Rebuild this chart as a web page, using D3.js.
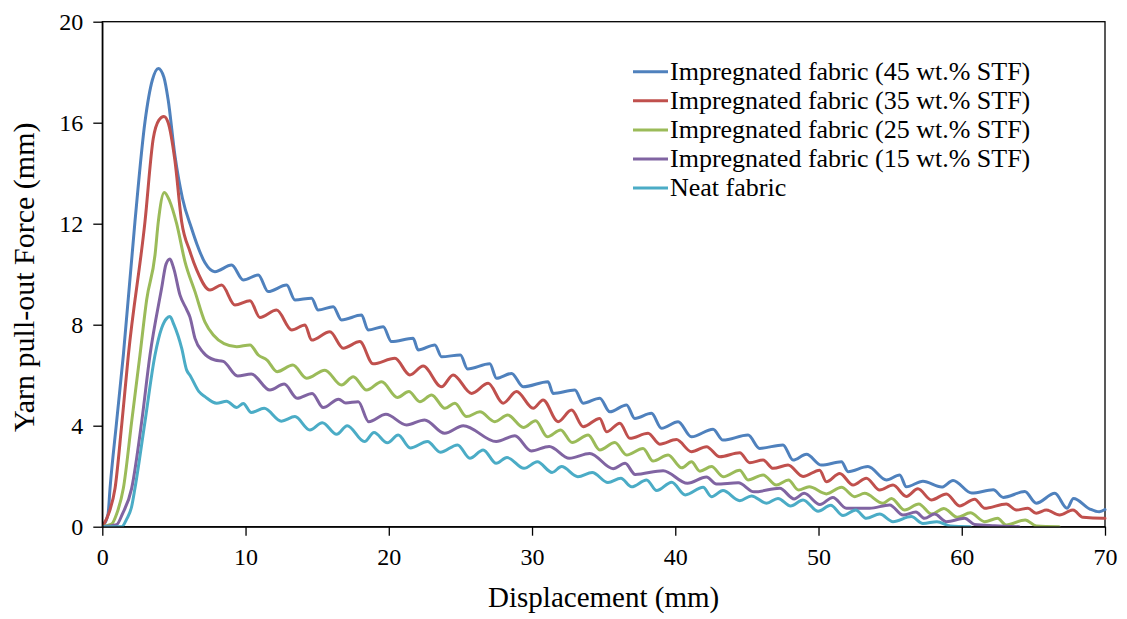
<!DOCTYPE html>
<html>
<head>
<meta charset="utf-8">
<script src="https://cdn.jsdelivr.net/npm/d3@7/dist/d3.min.js"></script>
<style>
  html, body { margin: 0; padding: 0; background: #fff; }
  svg { display: block; }
  text { font-family: "Liberation Serif", "Times New Roman", serif; fill: #000; }
</style>
</head>
<body>
<svg id="chart" width="1127" height="619"></svg>
<script>
const xTicks = [0, 10, 20, 30, 40, 50, 60, 70];
const yTicks = [0, 4, 8, 12, 16, 20];
const seriesNames = [
  "Impregnated fabric (45 wt.% STF)",
  "Impregnated fabric (35 wt.% STF)",
  "Impregnated fabric (25 wt.% STF)",
  "Impregnated fabric (15 wt.% STF)",
  "Neat fabric"
];

const stf45 = [[0,0],[0.4,0.5],[0.54,1.52],[1.0,4.16],[1.47,6.8],[2.28,12.08],[2.98,16.04],[3.5,17.7],[3.91,18.15],[4.3,17.8],[4.6,16.9],[5.07,14.7],[5.6,13.0],[6.24,11.8],[6.6,11.2],[7.17,10.45],[7.86,10.1],[9.03,10.36],[9.84,9.77],[10.89,9.97],[11.58,9.31],[12.87,9.57],[13.45,8.98],[14.61,9.05],[15.07,8.58],[16.12,8.71],[16.7,8.19],[18.1,8.38],[18.56,7.79],[19.61,7.92],[20.19,7.33],[21.7,7.46],[22.05,7.0],[23.22,7.2],[23.68,6.73],[25.0,6.8],[25.5,6.25],[27.05,6.45],[27.52,5.88],[28.57,6.07],[29.38,5.54],[31.12,5.74],[31.47,5.28],[32.99,5.41],[33.57,4.89],[34.73,5.09],[35.43,4.55],[36.6,4.82],[37.17,4.29],[38.34,4.49],[39.04,3.9],[40.2,4.16],[41.13,3.56],[42.64,3.86],[43.33,3.43],[45.08,3.63],[45.89,3.1],[47.52,3.24],[48.22,2.64],[49.16,2.87],[50.2,2.44],[51.6,2.57],[52.06,2.18],[53.45,2.38],[54.74,1.85],[55.67,2.05],[56.13,1.58],[57.29,1.8],[58.6,1.57],[59.39,1.83],[60.7,1.33],[62.2,1.46],[62.9,1.16],[64.4,1.39],[65.2,0.93],[66.5,1.32],[67.35,0.73],[67.8,1.12],[68.95,0.7],[69.6,0.59],[70,0.68]];

const stf35 = [[0,0],[0.5,0.6],[0.89,1.52],[1.35,4.0],[1.82,6.8],[2.98,12.08],[3.56,15.38],[3.95,16.1],[4.3,16.25],[4.6,16.0],[5.07,14.5],[5.54,12.08],[6.12,10.9],[6.59,10.17],[7.52,9.37],[8.33,9.57],[9.26,8.78],[10.31,8.95],[11.0,8.29],[12.17,8.58],[13.22,7.79],[14.15,7.99],[14.61,7.39],[15.89,7.72],[16.82,7.07],[17.98,7.33],[18.9,6.45],[20.43,6.67],[21.47,6.01],[22.4,6.36],[23.68,5.54],[24.49,6.01],[25.78,5.28],[26.94,5.68],[27.98,4.89],[28.92,5.35],[30.08,4.69],[30.77,5.02],[31.82,4.16],[32.76,4.62],[33.57,3.96],[34.73,4.29],[35.2,3.76],[36.13,4.1],[36.83,3.5],[38.1,3.7],[38.92,3.27],[40.08,3.45],[41.13,2.97],[42.18,3.17],[43.11,2.77],[44.5,2.93],[45.2,2.53],[46.13,2.64],[46.83,2.31],[47.87,2.44],[48.92,1.99],[50.08,2.24],[50.55,1.78],[51.48,2.11],[52.41,1.65],[53.34,1.92],[54.27,1.45],[55.2,1.65],[56.13,1.2],[56.94,1.5],[57.88,1.06],[58.93,1.3],[59.85,0.82],[60.9,1.09],[61.6,0.73],[63.11,0.9],[63.81,0.66],[64.62,0.73],[65.2,0.53],[65.9,0.66],[66.83,0.46],[67.76,0.66],[68.46,0.37],[69.85,0.33],[70,0.33]];

const stf25 = [[0,0],[0.65,0.1],[1.0,0.5],[1.47,1.52],[2.05,4.16],[2.63,6.8],[3.1,9.0],[3.68,10.76],[3.91,12.08],[4.33,13.24],[4.7,12.9],[5.19,12.0],[5.77,10.5],[6.47,9.31],[7.17,8.1],[7.75,7.59],[8.5,7.25],[9.38,7.13],[10.31,7.2],[10.89,6.8],[11.5,6.6],[12.2,6.14],[13.3,6.4],[14.26,5.88],[15.54,6.2],[16.7,5.61],[17.52,5.94],[18.45,5.41],[19.5,5.74],[20.6,5.12],[21.4,5.35],[22.17,4.95],[22.99,5.22],[23.92,4.69],[24.61,4.89],[25.43,4.36],[26.36,4.55],[27.4,4.16],[28.3,4.42],[29.4,3.93],[30.25,4.2],[31.07,3.56],[32.0,3.83],[32.8,3.33],[33.92,3.63],[34.73,3.04],[35.78,3.33],[36.6,2.84],[37.75,3.1],[38.45,2.6],[39.5,2.84],[40.45,2.33],[41.13,2.57],[41.72,2.2],[42.53,2.38],[43.35,1.98],[44.5,2.24],[45.08,1.85],[46.13,2.05],[47.06,1.65],[47.9,1.85],[48.6,1.45],[49.35,1.58],[50.55,1.3],[51.6,1.56],[52.53,1.19],[53.22,1.32],[54.5,0.93],[55.09,1.12],[56.01,0.66],[57.0,0.9],[57.9,0.5],[58.75,0.72],[59.7,0.37],[60.6,0.55],[61.6,0.2],[62.5,0.33],[63.11,0.07],[64.43,0.27],[65.2,0.03],[66.8,0]];

const stf15 = [[0,0],[1.0,0.08],[1.4,0.5],[2.05,1.52],[2.75,4.16],[3.33,6.8],[4.14,9.44],[4.45,10.4],[4.72,10.6],[5.0,10.2],[5.42,9.18],[5.89,8.6],[6.12,8.3],[6.47,7.46],[7.05,6.9],[7.86,6.6],[8.44,6.55],[9.45,5.97],[10.4,6.05],[11.7,5.41],[12.7,5.65],[13.6,5.09],[14.65,5.28],[15.42,4.72],[16.5,5.05],[17.0,4.9],[17.87,4.95],[18.6,4.16],[19.8,4.45],[21.24,4.03],[22.5,4.23],[23.9,3.7],[25.2,4.0],[27.5,3.37],[28.8,3.6],[29.95,3.0],[31.2,3.18],[32.6,2.71],[34.03,2.9],[35.66,2.3],[36.5,2.51],[37.2,2.07],[39.15,2.22],[40.85,1.72],[42.18,1.97],[42.87,1.69],[44.4,1.74],[45.5,1.38],[47.29,1.52],[48.3,1.1],[49.0,1.32],[50.1,0.88],[51.0,1.16],[51.95,0.73],[53.57,0.73],[54.97,0.86],[55.9,0.46],[56.8,0.58],[57.4,0.33],[58.1,0.5],[58.93,0.2],[60.2,0.33],[60.9,0.09],[62.3,0.04],[64.0,0]];

const neat = [[0,0],[1.35,0],[1.7,0.3],[2.05,0.8],[2.28,1.52],[2.98,4.16],[3.68,6.8],[4.14,7.86],[4.5,8.25],[4.72,8.32],[5.0,8.0],[5.54,7.07],[5.89,6.2],[6.12,6.0],[6.75,5.35],[7.17,5.15],[7.98,4.89],[8.68,4.97],[9.38,4.72],[9.84,4.88],[10.4,4.52],[11.3,4.69],[12.5,4.18],[13.45,4.36],[14.49,3.83],[15.36,4.12],[16.36,3.66],[17.1,4.0],[18.3,3.37],[18.97,3.73],[19.9,3.32],[20.66,3.63],[21.5,3.12],[22.7,3.37],[23.6,2.95],[24.8,3.24],[25.66,2.71],[26.59,3.04],[27.5,2.51],[28.25,2.74],[29.44,2.31],[30.37,2.57],[31.4,2.15],[32.06,2.38],[33.2,1.98],[34.2,2.15],[35.3,1.75],[36.2,1.92],[36.95,1.58],[38.0,1.85],[38.7,1.43],[39.75,1.76],[40.7,1.26],[41.94,1.56],[42.53,1.19],[43.33,1.43],[44.5,1.03],[45.32,1.22],[46.37,0.93],[47.17,1.12],[48.05,0.82],[48.92,1.06],[49.97,0.61],[50.85,0.85],[51.71,0.44],[52.6,0.66],[53.34,0.33],[54.27,0.5],[55.2,0.2],[56.48,0.4],[57.29,0.13],[58.27,0.2],[59.2,0.03],[60.6,0]];

const seriesData = [stf45, stf35, stf25, stf15, neat];
const colors = ["#4F81BD", "#C0504D", "#9BBB59", "#8064A2", "#4BACC6"];

const svg = d3.select("#chart");
const plot = { left: 102.3, right: 1105, top: 21.7, bottom: 526.7 };

const x = d3.scaleLinear().domain([0, 70]).range([plot.left, plot.right]);
const y = d3.scaleLinear().domain([0, 20]).range([plot.bottom, plot.top]);

svg.append("rect")
  .attr("x", plot.left).attr("y", plot.top)
  .attr("width", plot.right - plot.left).attr("height", plot.bottom - plot.top)
  .attr("fill", "none").attr("stroke", "#000").attr("stroke-width", 1.3);

const line = d3.line()
  .x(d => x(d[0]))
  .y(d => y(d[1]))
  .curve(d3.curveMonotoneX);

svg.append("defs").append("clipPath").attr("id", "clip")
  .append("rect").attr("x", plot.left).attr("y", plot.top - 5)
  .attr("width", plot.right - plot.left + 2).attr("height", plot.bottom - plot.top + 5);

const gLines = svg.append("g").attr("clip-path", "url(#clip)");
seriesData.forEach((s, i) => {
  gLines.append("path")
    .datum(s)
    .attr("d", line)
    .attr("fill", "none")
    .attr("stroke", colors[i])
    .attr("stroke-width", 3)
    .attr("stroke-linejoin", "round")
    .attr("stroke-linecap", "round");
});

const xAxis = svg.append("g")
  .attr("transform", `translate(0,${plot.bottom})`)
  .call(d3.axisBottom(x).tickValues(xTicks).tickSize(9).tickSizeOuter(0).tickPadding(12).tickFormat(d3.format("d")));
const yAxis = svg.append("g")
  .attr("transform", `translate(${plot.left},0)`)
  .call(d3.axisLeft(y).tickValues(yTicks).tickSize(9).tickSizeOuter(0).tickPadding(10).tickFormat(d3.format("d")));

[xAxis, yAxis].forEach(g => {
  g.select(".domain").attr("stroke", "#000").attr("stroke-width", 1.3);
  g.selectAll(".tick line").attr("stroke", "#000").attr("stroke-width", 1.3);
  g.selectAll(".tick text")
    .attr("font-family", "'Liberation Serif', 'Times New Roman', serif")
    .attr("font-size", 24)
    .attr("fill", "#000");
});

svg.append("text")
  .attr("x", (plot.left + plot.right) / 2)
  .attr("y", 607)
  .attr("text-anchor", "middle")
  .attr("font-size", 29)
  .text("Displacement (mm)");

svg.append("text")
  .attr("transform", `translate(34,${(plot.top + plot.bottom) / 2 + 3}) rotate(-90)`)
  .attr("text-anchor", "middle")
  .attr("font-size", 30)
  .text("Yarn pull-out Force (mm)");

const legend = svg.append("g");
seriesNames.forEach((name, i) => {
  const ly = 71.7 + i * 29.1;
  legend.append("line")
    .attr("x1", 633).attr("x2", 668)
    .attr("y1", ly).attr("y2", ly)
    .attr("stroke", colors[i]).attr("stroke-width", 3);
  legend.append("text")
    .attr("x", 670).attr("y", ly + 8)
    .attr("font-size", 26)
    .text(name);
});
</script>
</body>
</html>
